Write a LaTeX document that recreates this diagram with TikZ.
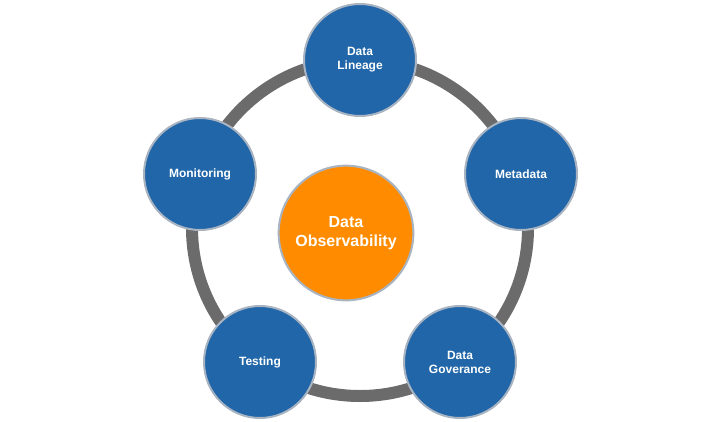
\documentclass[tikz,border=0pt]{standalone}
\usepackage{fontspec}
\setmainfont{Liberation Sans}
\definecolor{pillarblue}{HTML}{2166A8}
\definecolor{huborange}{HTML}{FF8C00}
\definecolor{ringgray}{HTML}{6B6B6B}
\definecolor{rimgray}{HTML}{A9B4C2}
\tikzset{
  pillar/.style={circle, fill=pillarblue, draw=rimgray, line width=1.5pt, minimum size=84pt,
    text=white, font=\bfseries\fontsize{9}{10.5}\selectfont, align=center},
  hub/.style={circle, fill=huborange, draw=rimgray, line width=1.5pt, minimum size=101pt,
    text=white, font=\bfseries\fontsize{12}{14}\selectfont, align=center}
}
\begin{document}
\begin{tikzpicture}[x=0.75pt, y=-0.75pt]
\coordinate (centre) at (360,228);
% ring behind the pillars
\draw [ringgray, line width=9pt] (centre) circle [radius=168];
\node [hub] (observability) at (346,233) {Data\\Observability};
\node [pillar] (lineage) at (360,60) {Data\\Lineage};
\node [pillar] (metadata) at (521,174) {Metadata};
\node [pillar] (governance) at (460,362) {Data\\Goverance};
\node [pillar] (testing) at (260,362) {Testing};
\node [pillar] (monitoring) at (200,174) {Monitoring};
\pgfresetboundingbox
\useasboundingbox (0,0) rectangle (705,421);
\end{tikzpicture}
\end{document}
